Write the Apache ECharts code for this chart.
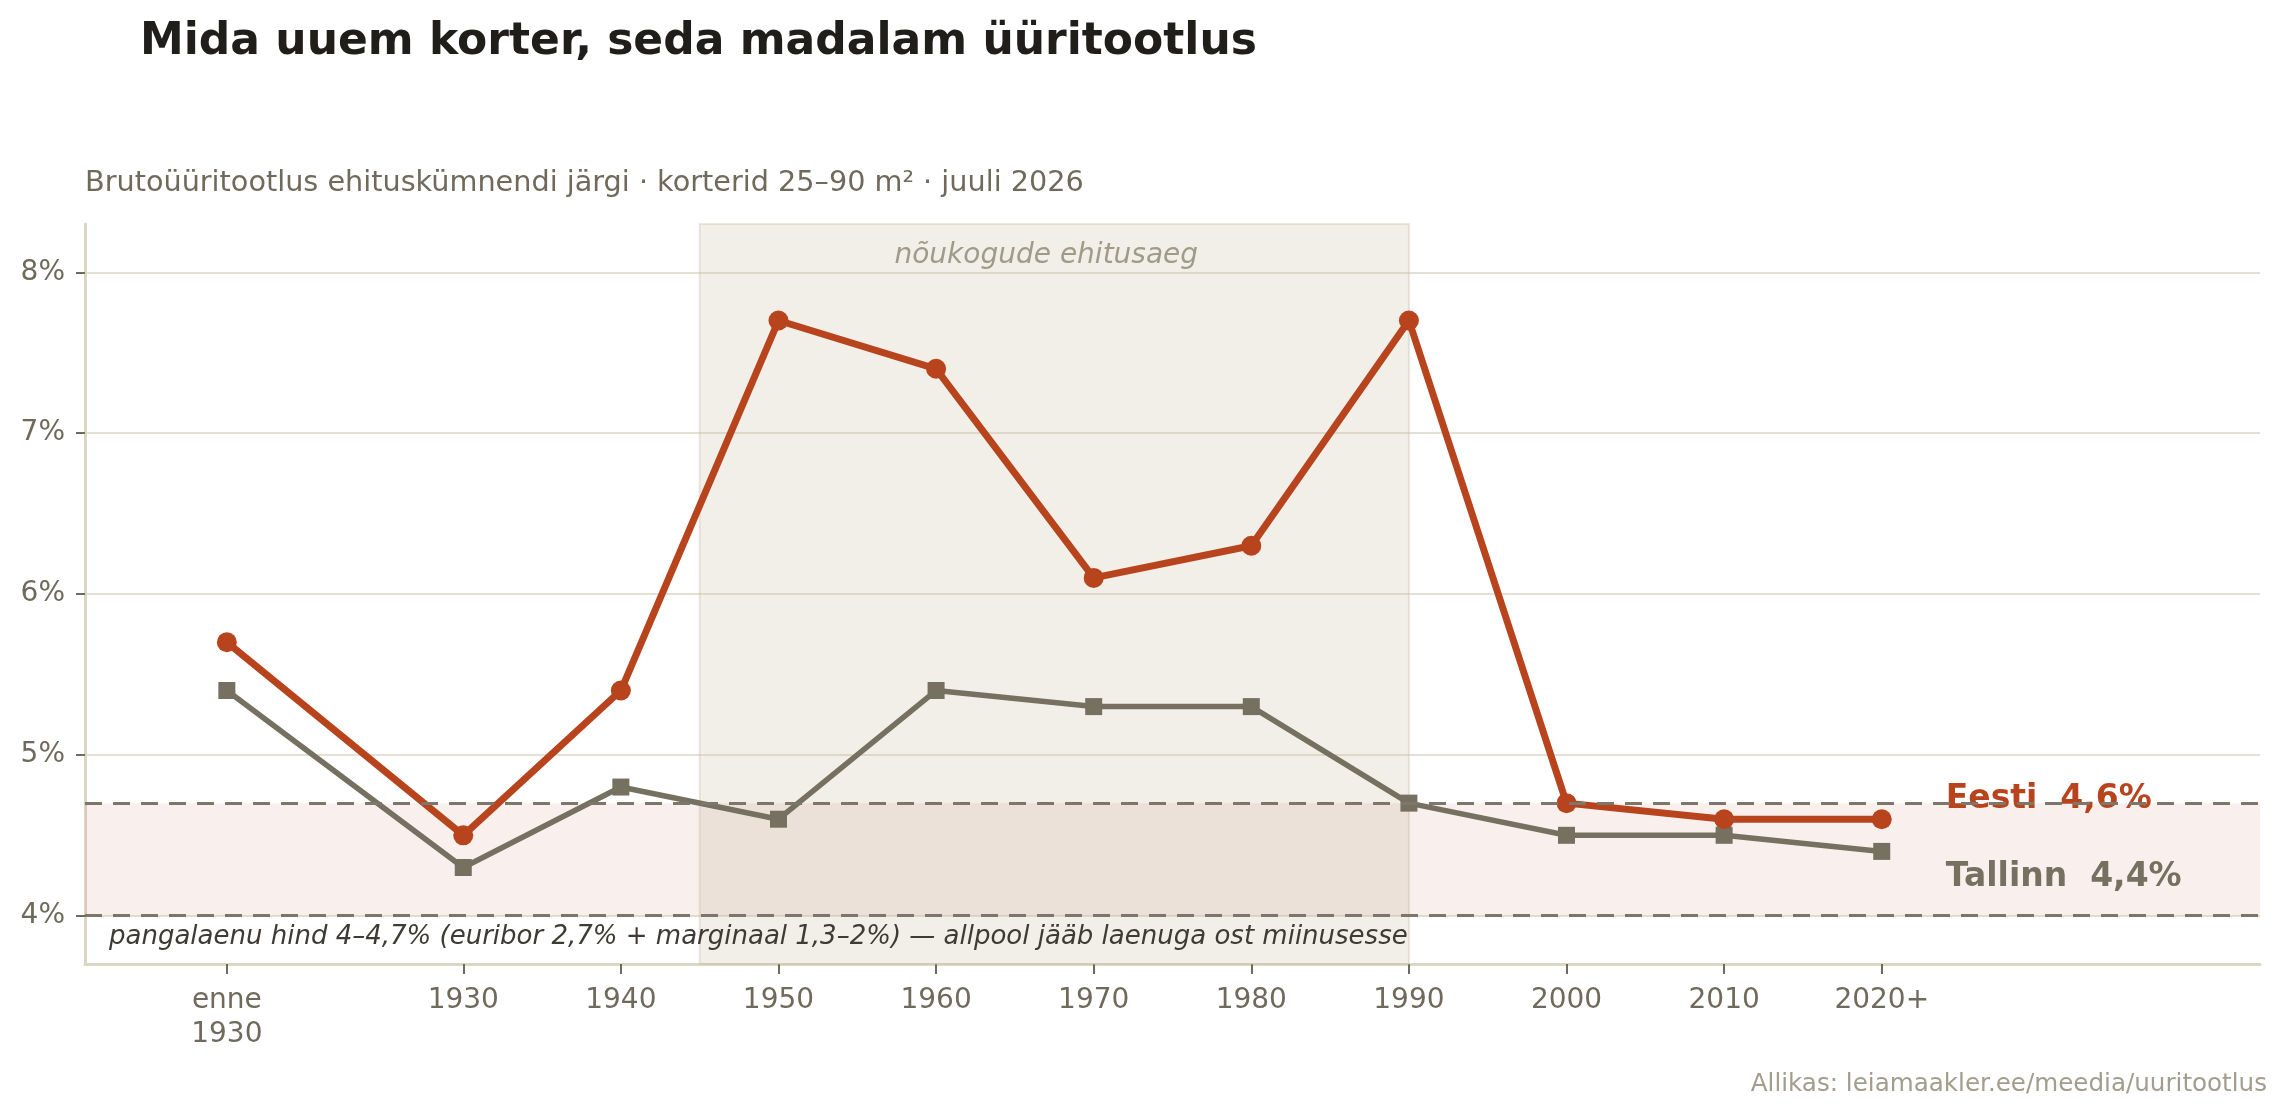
<!DOCTYPE html>
<html>
<head>
<meta charset="utf-8">
<script src="https://cdn.jsdelivr.net/npm/echarts@6.0.0/dist/echarts.min.js"></script>
<style>
html, body { margin: 0; padding: 0; background: #fff; }
#chart { width: 2286px; height: 1115px; }
</style>
</head>
<body>
<div id="chart"></div>
<script>
// ehituskümnendid (enne 1930 paigutatud 1915 peale)
var decades = [1915, 1930, 1940, 1950, 1960, 1970, 1980, 1990, 2000, 2010, 2020];
var decadeLabels = ['enne\n1930', '1930', '1940', '1950', '1960', '1970', '1980', '1990', '2000', '2010', '2020+'];
var eesti = [5.7, 4.5, 5.4, 7.7, 7.4, 6.1, 6.3, 7.7, 4.7, 4.6, 4.6];
var tallinn = [5.4, 4.3, 4.8, 4.6, 5.4, 5.3, 5.3, 4.7, 4.5, 4.5, 4.4];
var yTicks = [4, 5, 6, 7, 8];
var xRange = [1906, 2044];
var yRange = [3.7, 8.3];
var loanBand = [4.0, 4.7];
var sovietEra = [1945, 1990];

var red = '#b8441e';
var gray = '#757060';
var textGray = '#6f6a5b';
var font = 'DejaVu Sans';

function pairs(xs, ys) {
    var out = [];
    for (var i = 0; i < xs.length; i++) out.push([xs[i], ys[i]]);
    return out;
}

var dom = document.getElementById('chart');
var myChart = echarts.init(dom);
var option = {
    backgroundColor: '#ffffff',
    animation: false,
    textStyle: { fontFamily: font },
    title: [
        {
            text: 'Mida uuem korter, seda madalam üüritootlus',
            left: 135, top: 16,
            textStyle: { fontFamily: font, fontSize: 44, fontWeight: 'bold', color: '#1f1e1a' }
        },
        {
            text: 'Brutoüüritootlus ehituskümnendi järgi · korterid 25–90 m² · juuli 2026',
            left: 80, top: 164,
            textStyle: { fontFamily: font, fontSize: 28.7, fontWeight: 'normal', color: textGray }
        },
        {
            text: 'Allikas: leiamaakler.ee/meedia/uuritootlus',
            right: 14, top: 1067,
            textStyle: { fontFamily: font, fontSize: 24.6, fontWeight: 'normal', color: '#a29d8c' }
        }
    ],
    grid: { left: 85, right: 26, top: 224, bottom: 151, containLabel: false },
    xAxis: {
        type: 'value',
        min: xRange[0],
        max: xRange[1],
        axisLine: { show: true, onZero: false, lineStyle: { color: '#dcd6c5', width: 3 } },
        axisTick: { show: true, length: 10, customValues: decades, lineStyle: { color: textGray, width: 2 } },
        axisLabel: {
            customValues: decades,
            margin: 20,
            fontSize: 28,
            lineHeight: 34,
            color: textGray,
            fontFamily: font,
            formatter: function (v) {
                var i = decades.indexOf(v);
                return i >= 0 ? decadeLabels[i] : '';
            }
        },
        splitLine: { show: false }
    },
    yAxis: {
        type: 'value',
        min: yRange[0],
        max: yRange[1],
        axisLine: { show: true, lineStyle: { color: '#dcd6c5', width: 3 } },
        axisTick: { show: true, length: 9, customValues: yTicks, lineStyle: { color: textGray, width: 2 } },
        axisLabel: {
            customValues: yTicks,
            margin: 20,
            fontSize: 28,
            color: textGray,
            fontFamily: font,
            formatter: function (v) { return v + '%'; }
        },
        splitLine: { show: true, lineStyle: { color: '#e4e0d4', width: 2 } }
    },
    series: [
        {
            name: 'taust',
            type: 'line',
            data: [],
            z: 1,
            silent: true,
            markArea: {
                silent: true,
                data: [
                    [
                        {
                            xAxis: sovietEra[0], yAxis: yRange[1],
                            itemStyle: { color: 'rgba(200,190,165,0.25)', borderColor: 'rgba(200,190,165,0.35)', borderWidth: 2 },
                            label: {
                                show: true, position: 'insideTop', distance: 19, offset: [-8, 0],
                                formatter: 'nõukogude ehitusaeg',
                                fontSize: 28, fontStyle: 'italic', color: '#a09b89', fontFamily: font
                            }
                        },
                        { xAxis: sovietEra[1], yAxis: yRange[0] }
                    ],
                    [
                        {
                            yAxis: loanBand[0], xAxis: xRange[0],
                            itemStyle: { color: 'rgba(190,90,60,0.09)' },
                            label: { show: false }
                        },
                        { yAxis: loanBand[1], xAxis: xRange[1] }
                    ]
                ]
            },
            markLine: {
                silent: true,
                symbol: ['none', 'none'],
                lineStyle: { color: '#7d776b', width: 3, type: [17, 11] },
                data: [
                    {
                        yAxis: loanBand[0],
                        label: {
                            show: true, position: 'insideStartBottom', distance: [24, 9],
                            formatter: 'pangalaenu hind 4–4,7% (euribor 2,7% + marginaal 1,3–2%) — allpool jääb laenuga ost miinusesse',
                            fontSize: 26, fontStyle: 'italic', color: '#3e3b34', fontFamily: font
                        }
                    },
                    { yAxis: loanBand[1], label: { show: false } }
                ]
            }
        },
        {
            name: 'Tallinn',
            type: 'line',
            z: 3,
            data: pairs(decades, tallinn),
            symbol: 'rect',
            symbolSize: 17,
            lineStyle: { color: gray, width: 5.5 },
            itemStyle: { color: gray },
            endLabel: {
                show: true,
                formatter: 'Tallinn  4,4%',
                offset: [64, 26],
                distance: 0,
                fontSize: 33, fontWeight: 'bold', color: gray, fontFamily: font
            }
        },
        {
            name: 'Eesti',
            type: 'line',
            z: 4,
            data: pairs(decades, eesti),
            symbol: 'circle',
            symbolSize: 20,
            lineStyle: { color: red, width: 7 },
            itemStyle: { color: red },
            endLabel: {
                show: true,
                formatter: 'Eesti  4,6%',
                offset: [64, -20],
                distance: 0,
                fontSize: 33, fontWeight: 'bold', color: red, fontFamily: font
            }
        }
    ]
};
if (option && typeof option === 'object') {
    myChart.setOption(option, true);
}
</script>
</body>
</html>
